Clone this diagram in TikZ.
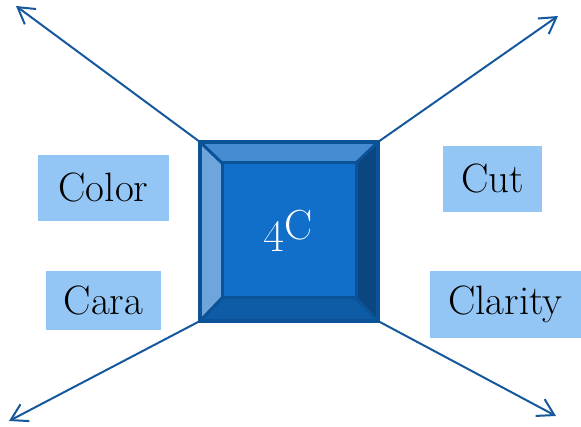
\documentclass[tikz,border=0pt]{standalone}
\usetikzlibrary{arrows.meta}
\definecolor{linec}{RGB}{22,88,158}
\definecolor{lab}{RGB}{148,198,245}
\definecolor{inner}{RGB}{17,111,201}
\definecolor{btop}{RGB}{70,140,210}
\definecolor{bleft}{RGB}{110,165,220}
\definecolor{bright}{RGB}{10,70,128}
\definecolor{bbot}{RGB}{14,92,166}
\definecolor{edge}{RGB}{11,82,150}
\tikzset{
  labelbox/.style={fill=lab, inner sep=0pt, font=\fontsize{41}{45}\selectfont},
  ray/.style={draw=linec, line width=2pt, -{Straight Barb[length=16pt,width=19pt,line width=2pt]}},
  bevel/.style={draw=edge, line width=3pt, line join=round}
}
\begin{document}
\begin{tikzpicture}[x=1pt,y=-1pt]
\useasboundingbox (0,0) rectangle (581,427);
% corners
\coordinate (otl) at (200,142);
\coordinate (otr) at (378,142);
\coordinate (obr) at (378,321);
\coordinate (obl) at (200,321);
\coordinate (itl) at (222,163);
\coordinate (itr) at (356,163);
\coordinate (ibr) at (356,298);
\coordinate (ibl) at (222,298);
% arrow ends
\coordinate (etl) at (16,6);
\coordinate (etr) at (558,16);
\coordinate (ebl) at (9,421);
\coordinate (ebr) at (556,416);
\draw[ray] (otl) -- (etl);
\draw[ray] (otr) -- (etr);
\draw[ray] (obl) -- (ebl);
\draw[ray] (obr) -- (ebr);
% bevel box
\fill[btop] (otl) -- (otr) -- (itr) -- (itl) -- cycle;
\fill[bleft] (otl) -- (itl) -- (ibl) -- (obl) -- cycle;
\fill[bright] (otr) -- (obr) -- (ibr) -- (itr) -- cycle;
\fill[bbot] (obl) -- (ibl) -- (ibr) -- (obr) -- cycle;
\fill[inner] (itl) rectangle (ibr);
\draw[bevel] (itl) rectangle (ibr);
\draw[bevel] (otl) -- (itl) (otr) -- (itr) (obr) -- (ibr) (obl) -- (ibl);
\draw[draw=edge, line width=4.5pt, line join=miter] (otl) rectangle (obr);
\node[text=white, font=\fontsize{42}{46}\selectfont] (c) at (288,231) {\raisebox{-3pt}{\scalebox{1.3}{\oldstylenums{4}}}C};
% labels
\node[labelbox, minimum width=131pt, minimum height=66pt] (color) at (103.5,188) {Color};
\node[labelbox, minimum width=115pt, minimum height=59pt] (cara) at (103.5,300.5) {Cara};
\node[labelbox, minimum width=99pt, minimum height=66pt] (cut) at (492.5,179) {Cut};
\node[labelbox, minimum width=151pt, minimum height=67pt] (clarity) at (505.5,304.5) {Clarity};
\end{tikzpicture}
\end{document}
